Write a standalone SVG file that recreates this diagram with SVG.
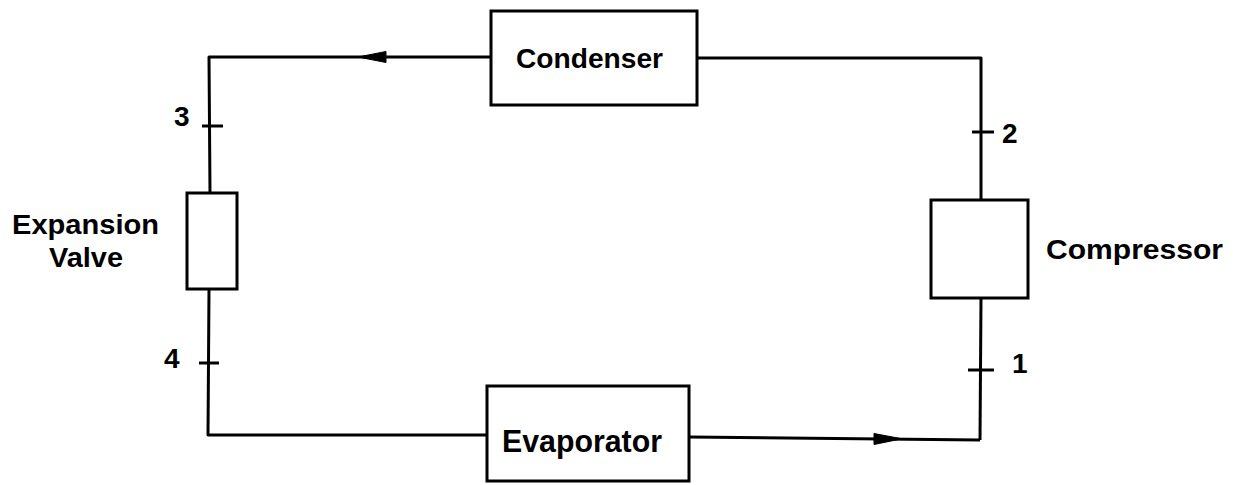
<svg xmlns="http://www.w3.org/2000/svg" width="1233" height="485" viewBox="0 0 1233 485">
<style>
.box{fill:#fff;stroke:#000;stroke-width:3}
.ln{fill:none;stroke:#000;stroke-width:3;stroke-linejoin:round}
.tk{stroke:#000;stroke-width:3}
.ah{fill:#000;stroke:#000;stroke-width:1}
.t{font-family:"Liberation Sans",Arial,sans-serif;font-weight:bold;fill:#000;font-size:26px}
.n{font-size:28px}
</style>
<rect width="1233" height="485" fill="#fff"/>
<g id="connectors">
<path class="ln" d="M491,57 L209,57 L210,193"/>
<polygon class="ah" points="358,57 386,51.5 386,62.5"/>
<path class="ln" d="M697,58 L981,58 L981,200"/>
<path class="ln" d="M981,298 L980,440"/>
<path class="ln" d="M209,289 L208,435 L487,435"/>
<path class="ln" d="M689,437 L980,440"/>
<polygon class="ah" points="902,438.8 874,433.5 874,444.5"/>
<line class="tk" x1="202" y1="126" x2="223" y2="126"/>
<line class="tk" x1="199" y1="363" x2="219" y2="363"/>
<line class="tk" x1="972" y1="132" x2="994" y2="132"/>
<line class="tk" x1="968" y1="370" x2="994" y2="370"/>
</g>
<g id="condenser">
<rect class="box" x="491" y="11" width="206" height="94"/>
<text class="t" x="516" y="68" font-size="28" style="font-size:28px" textLength="147" lengthAdjust="spacingAndGlyphs">Condenser</text>
</g>
<g id="expansion-valve">
<rect class="box" x="187" y="193" width="50" height="96"/>
<text class="t" x="12" y="234" style="font-size:27px" textLength="147" lengthAdjust="spacingAndGlyphs">Expansion</text>
<text class="t" x="49" y="267" style="font-size:27px" textLength="74" lengthAdjust="spacingAndGlyphs">Valve</text>
</g>
<g id="compressor">
<rect class="box" x="931" y="200" width="97" height="98"/>
<text class="t" x="1046" y="259" style="font-size:28px" textLength="177" lengthAdjust="spacingAndGlyphs">Compressor</text>
</g>
<g id="evaporator">
<rect class="box" x="487" y="386" width="202" height="95"/>
<text class="t" x="502" y="452" style="font-size:31px" textLength="160" lengthAdjust="spacingAndGlyphs">Evaporator</text>
</g>
<g id="labels">
<text class="t n" x="174" y="126">3</text>
<text class="t n" x="164" y="368">4</text>
<text class="t n" x="1002" y="143">2</text>
<text class="t n" x="1012" y="373">1</text>
</g>
</svg>
